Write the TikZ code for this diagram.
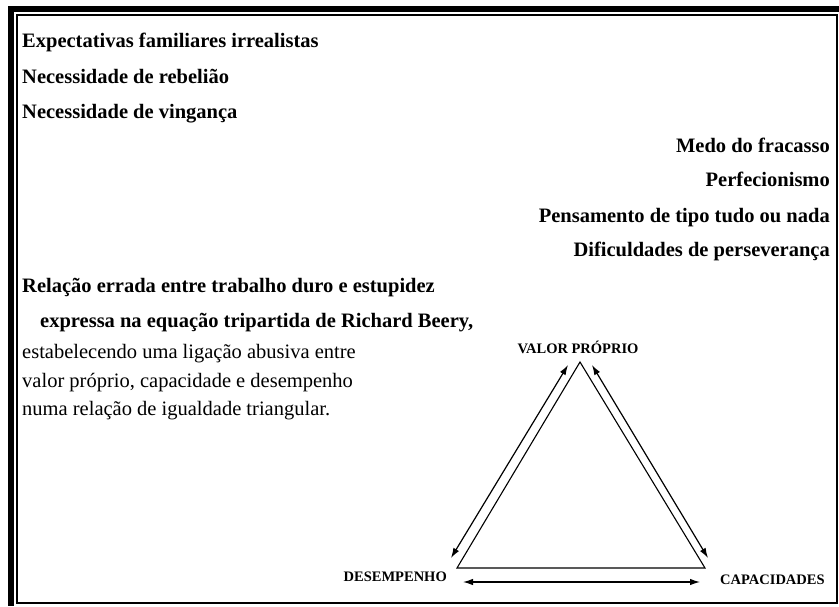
\documentclass[tikz,border=0pt]{standalone}
\usepackage{fontspec}
\setmainfont{Liberation Serif}
\usetikzlibrary{arrows.meta}
\tikzset{
  boldline/.style={inner sep=0pt, font=\fontsize{20.5}{24}\selectfont\bfseries},
  plainline/.style={inner sep=0pt, font=\fontsize{20.5}{24}\selectfont},
  cornerlabel/.style={inner sep=0pt, font=\fontsize{14.5}{17}\selectfont\bfseries},
  side/.style={line width=1.1pt},
  dblarrow/.style={line width=1.2pt, {Latex[length=10pt,width=6.5pt]}-{Latex[length=10pt,width=6.5pt]}}
}
\begin{document}
\begin{tikzpicture}[x=1pt,y=-1pt]
\useasboundingbox (0,0) rectangle (839,606);
% border
\fill[black] (8,6) rectangle (839,12);
\fill[black] (8,6) rectangle (14,606);
\draw[line width=2pt] (17,15) rectangle (836.5,603.3);
% left text
\node[boldline, anchor=base west] (t1) at (22,47) {Expectativas familiares irrealistas};
\node[boldline, anchor=base west] (t2) at (22,83) {Necessidade de rebelião};
\node[boldline, anchor=base west] (t3) at (22,118) {Necessidade de vingança};
% right text
\node[boldline, anchor=base east] (r1) at (830,152) {Medo do fracasso};
\node[boldline, anchor=base east] (r2) at (830,186) {Perfecionismo};
\node[boldline, anchor=base east] (r3) at (830,222) {Pensamento de tipo tudo ou nada};
\node[boldline, anchor=base east] (r4) at (830,256) {Dificuldades de perseverança};
% lower left text
\node[boldline, anchor=base west] (t4) at (22,292) {Relação errada entre trabalho duro e estupidez};
\node[boldline, anchor=base west] (t5) at (40,327) {expressa na equação tripartida de Richard Beery,};
\node[plainline, anchor=base west] (p1) at (22,358) {estabelecendo uma ligação abusiva entre};
\node[plainline, anchor=base west] (p2) at (22,387) {valor próprio, capacidade e desempenho};
\node[plainline, anchor=base west] (p3) at (22,415) {numa relação de igualdade triangular.};
% triangle labels
\node[cornerlabel, anchor=base] (vp) at (578,353) {VALOR PRÓPRIO};
\node[cornerlabel, anchor=base east] (de) at (447,581) {DESEMPENHO};
\node[cornerlabel, anchor=base west] (ca) at (720,584) {CAPACIDADES};
% triangle
\coordinate (A) at (580,362);
\coordinate (B) at (457,568);
\coordinate (C) at (705,568);
\draw[side] (A) -- (B) -- (C) -- cycle;
% arrows
\coordinate (l1) at (451,558);
\coordinate (l2) at (568,365);
\coordinate (q1) at (592,365);
\coordinate (q2) at (708,558);
\coordinate (b1) at (463,582);
\coordinate (b2) at (700,582);
\draw[dblarrow] (l1) -- (l2);
\draw[dblarrow] (q1) -- (q2);
\draw[dblarrow] (b1) -- (b2);
\end{tikzpicture}
\end{document}
